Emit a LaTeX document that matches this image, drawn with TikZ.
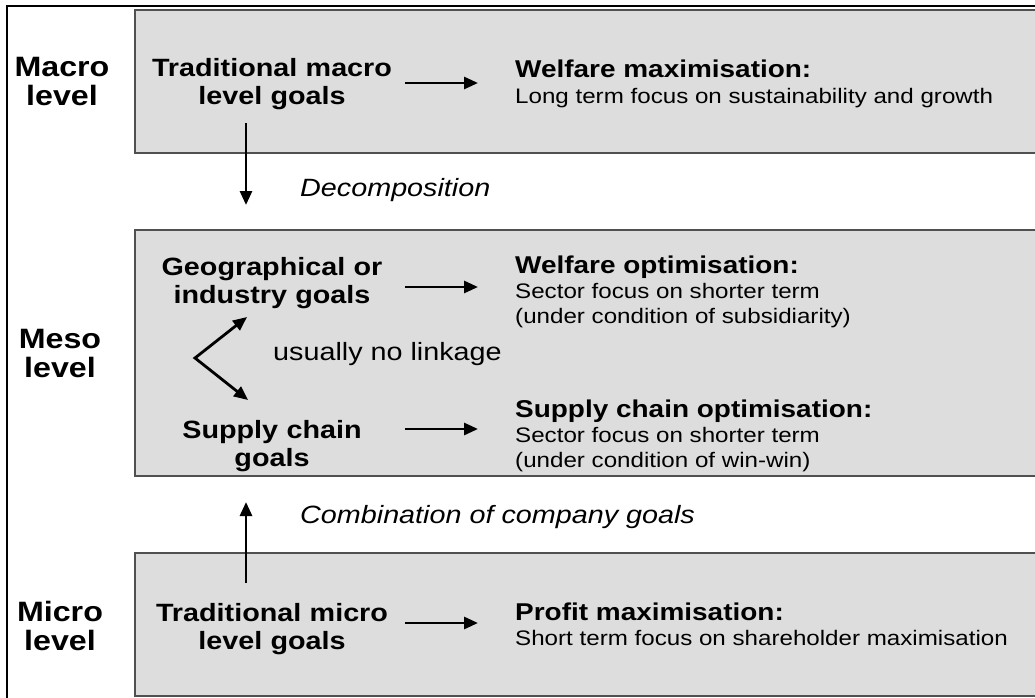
\documentclass[tikz,border=0pt]{standalone}
\usepackage{fontspec}
\setmainfont{Liberation Sans}[FakeStretch=1.15]
\usetikzlibrary{arrows.meta}

\definecolor{bandfill}{HTML}{DDDDDD}
\definecolor{bandline}{HTML}{505050}

\begin{document}
\begin{tikzpicture}[x=1pt, y=-1pt,
		level/.style={align=center, anchor=base, inner sep=0, font=\fontsize{28}{29}\selectfont\bfseries},
		goal/.style={align=center, anchor=base, text width=250pt, inner sep=0, font=\fontsize{25}{28}\selectfont\bfseries},
		aim/.style={align=left, anchor=base west, inner sep=0, font=\fontsize{21}{25}\selectfont},
		note/.style={anchor=base west, inner sep=0, font=\fontsize{25}{28}\selectfont},
		band/.style={fill=bandfill, draw=bandline, line width=2pt},
		flow/.style={-{Triangle[length=14pt,width=12pt]}, line width=2.8pt},
		side/.style={shorten <=8pt, shorten >=37pt}]
		\clip (0,0) rectangle (1035,698);
		\fill[white] (0,0) rectangle (1035,698);
		\draw[line width=2.5pt] (7,6) rectangle (1060,720);
		% the three level bands
		\draw[band] (135,10) rectangle (1060,153);
		\draw[band] (135,230) rectangle (1060,476);
		\draw[band] (135,553) rectangle (1060,696);
		% labels sit on their last baseline, goals on their first
		\draw
		node[level] (macro_label) at (62, 106){Macro\\level}
		node[level] (meso_label) at (60, 377){Meso\\level}
		node[level] (micro_label) at (60, 650){Micro\\level}
		node[goal] (macro_goals) at (272, 77){Traditional macro\\level goals}
		node[goal] (geo_goals) at (272, 275){Geographical or\\industry goals}
		node[goal] (supply_goals) at (272, 438){Supply chain\\goals}
		node[goal] (micro_goals) at (272, 621){Traditional micro\\level goals}
		node[aim] (macro_aim) at (515, 103){{\fontsize{24.3}{25}\selectfont\bfseries Welfare maximisation:}\\Long term focus on sustainability and growth}
		node[aim] (geo_aim) at (515, 323){{\fontsize{24.3}{25}\selectfont\bfseries Welfare optimisation:}\\Sector focus on shorter term\\(under condition of subsidiarity)}
		node[aim] (supply_aim) at (515, 467){{\fontsize{24.3}{25}\selectfont\bfseries Supply chain optimisation:}\\Sector focus on shorter term\\(under condition of win-win)}
		node[aim] (micro_aim) at (515, 645){{\fontsize{24.3}{25}\selectfont\bfseries Profit maximisation:}\\Short term focus on shareholder maximisation}
		node[note, font=\fontsize{25}{28}\selectfont\itshape] (decomp) at (300, 196){Decomposition}
		node[note, font=\fontsize{25}{28}\selectfont\itshape] (combi) at (300, 523){Combination of company goals}
		node[note] (nolink) at (273, 360){usually no linkage};
		\coordinate (decomp_start) at (246, 123);
		\coordinate (decomp_tip) at (246, 205);
		\coordinate (combi_start) at (246, 583);
		\coordinate (combi_tip) at (246, 502);
		\coordinate (link_vertex) at (195, 358);
		\coordinate (geo_tip) at (247, 317);
		\coordinate (supply_tip) at (248, 400);
		\draw [flow, side] ([yshift=-6pt]macro_goals.base east) -- ([yshift=-6pt]macro_goals.base east -| macro_aim.base west);
		\draw [flow, side] ([yshift=-12pt]geo_goals.base east) -- ([yshift=-12pt]geo_goals.base east -| geo_aim.base west);
		\draw [flow, side] ([yshift=9pt]supply_goals.base east) -- ([yshift=9pt]supply_goals.base east -| supply_aim.base west);
		\draw [flow, side] ([yshift=-2pt]micro_goals.base east) -- ([yshift=-2pt]micro_goals.base east -| micro_aim.base west);
		\draw [flow] (decomp_start) -- (decomp_tip);
		\draw [flow] (combi_start) -- (combi_tip);
		\draw [flow, {Triangle[length=14pt,width=12pt]}-{Triangle[length=14pt,width=12pt]}, line join=miter] (geo_tip) -- (link_vertex) -- (supply_tip);
		\end{tikzpicture}
\end{document}
